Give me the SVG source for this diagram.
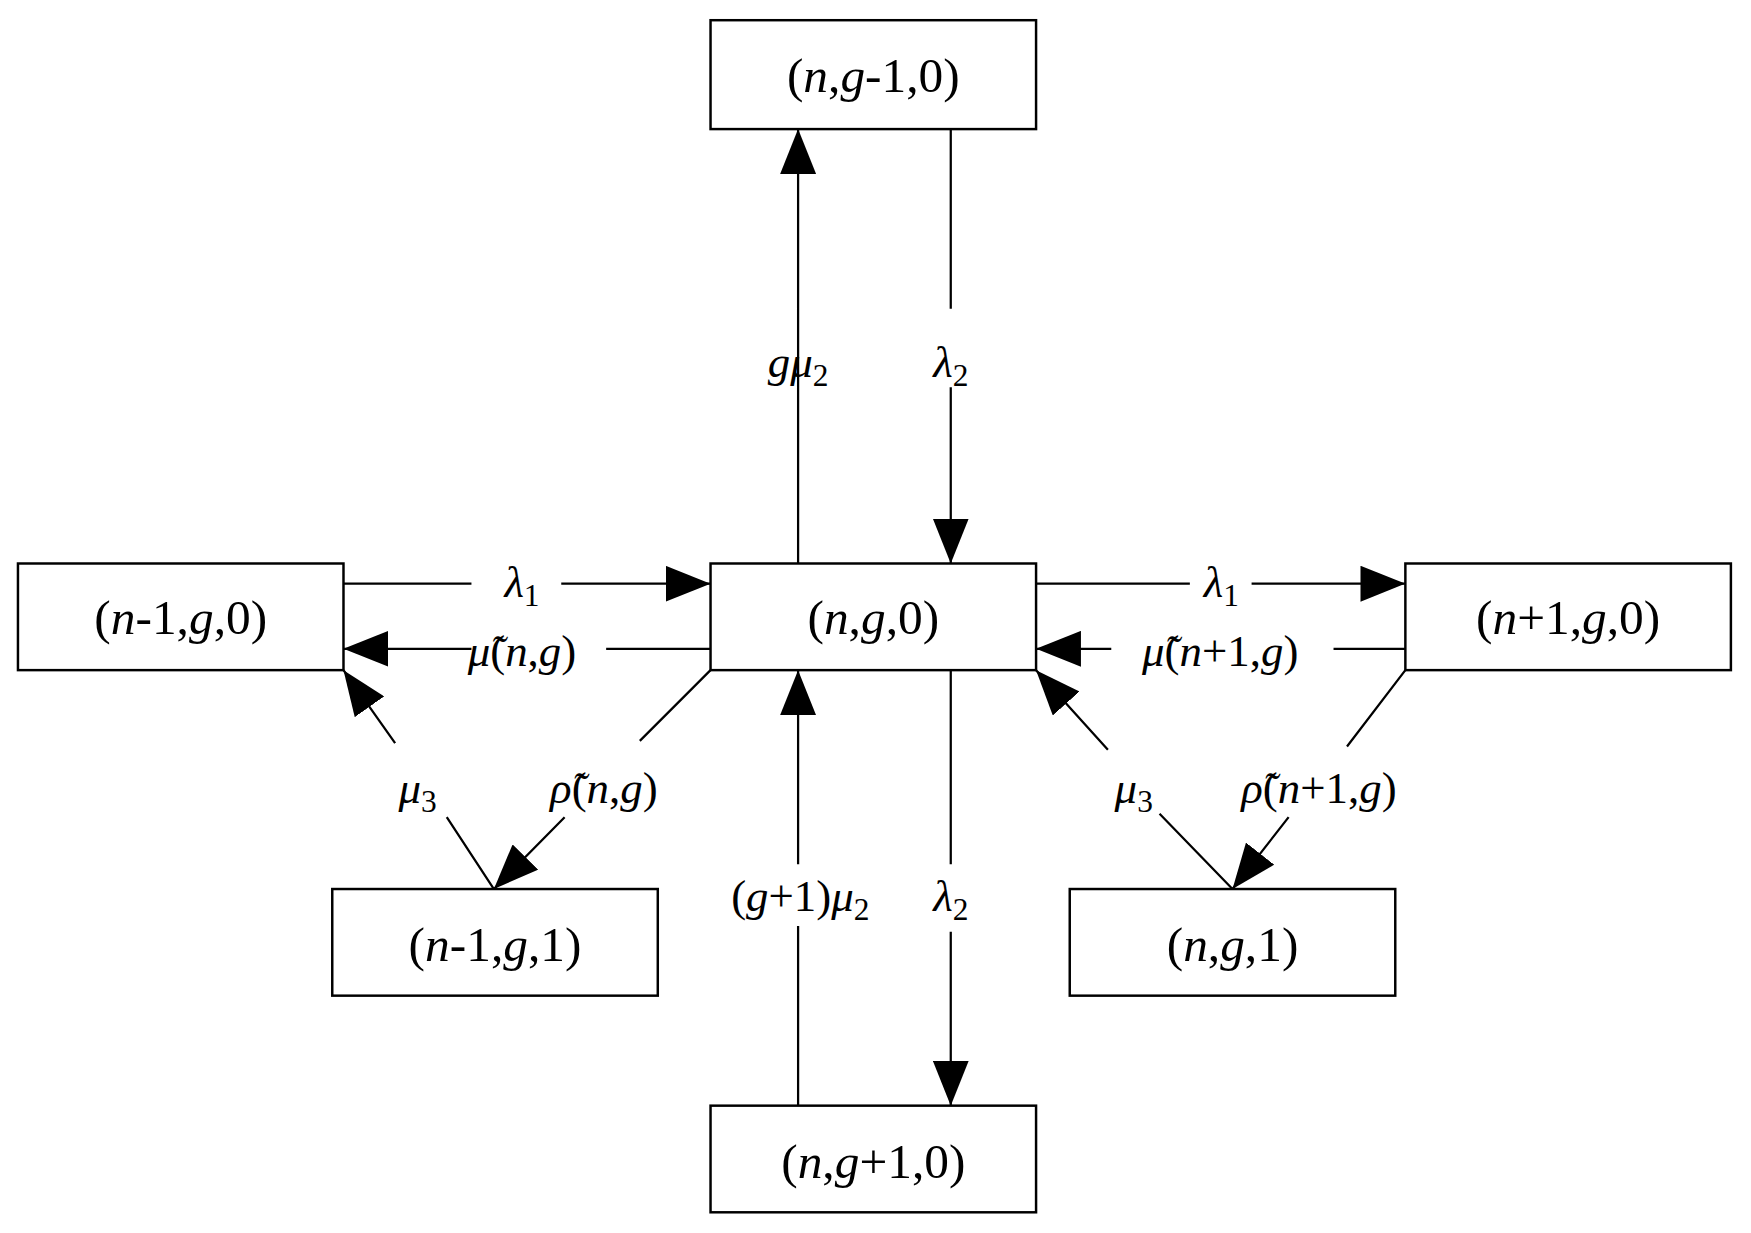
<svg xmlns="http://www.w3.org/2000/svg" width="1751" height="1233" viewBox="0 0 1751 1233">
<style>
.b{fill:#fff;stroke:#000;stroke-width:2.2}
.t{font-family:"Liberation Serif",serif;font-size:44px;text-anchor:middle}
.l{font-family:"Liberation Serif",serif;font-size:40px;text-anchor:middle}
.i{font-style:italic}
.s{font-size:28px}
.c{stroke:#000;stroke-width:2;fill:none}
</style>
<defs>
<marker id="a" markerUnits="userSpaceOnUse" markerWidth="40" markerHeight="32" refX="40" refY="16" orient="auto"><path d="M0,0L40,16L0,32z" fill="#000"/></marker>
</defs>
<rect width="1751" height="1233" fill="#fff"/>
<g transform="scale(1.1225)">
<g id="connectors">
<path class="c" d="M711,502V275M711,345V115" marker-end="url(#a)"/>
<path class="c" d="M847,115V275M847,345V502" marker-end="url(#a)"/>
<path class="c" d="M306,520H420M500,520H633" marker-end="url(#a)"/>
<path class="c" d="M633,578H540M420,578H306" marker-end="url(#a)"/>
<path class="c" d="M923,520H1060M1115,520H1252" marker-end="url(#a)"/>
<path class="c" d="M1252,578H1188M990,578H923" marker-end="url(#a)"/>
<path class="c" d="M440,792L398,728M352,662L306,597" marker-end="url(#a)"/>
<path class="c" d="M633,597L570,660M503,728L440,792" marker-end="url(#a)"/>
<path class="c" d="M1098,792L1033,725M987,668L923,597" marker-end="url(#a)"/>
<path class="c" d="M1252,597L1200,665M1148,728L1098,792" marker-end="url(#a)"/>
<path class="c" d="M711,985V825M711,770V597" marker-end="url(#a)"/>
<path class="c" d="M847,597V770M847,830V985" marker-end="url(#a)"/>
</g>
<g id="labels" class="l">
<text x="711" y="336"><tspan class="i">gμ</tspan><tspan class="s" dy="8">2</tspan></text>
<text x="847" y="336"><tspan class="i">λ</tspan><tspan class="s" dy="8">2</tspan></text>
<text x="465" y="532"><tspan class="i">λ</tspan><tspan class="s" dy="8">1</tspan></text>
<text x="1088" y="532"><tspan class="i">λ</tspan><tspan class="s" dy="8">1</tspan></text>
<text x="465" y="593"><tspan class="i">μ̃</tspan>(<tspan class="i">n</tspan>,<tspan class="i">g</tspan>)</text>
<text x="1087" y="593"><tspan class="i">μ̃</tspan>(<tspan class="i">n</tspan>+1,<tspan class="i">g</tspan>)</text>
<text x="372" y="715"><tspan class="i">μ</tspan><tspan class="s" dy="8">3</tspan></text>
<text x="1010" y="715"><tspan class="i">μ</tspan><tspan class="s" dy="8">3</tspan></text>
<text x="538" y="715"><tspan class="i">ρ̃</tspan>(<tspan class="i">n</tspan>,<tspan class="i">g</tspan>)</text>
<text x="1175" y="715"><tspan class="i">ρ̃</tspan>(<tspan class="i">n</tspan>+1,<tspan class="i">g</tspan>)</text>
<text x="713" y="812">(<tspan class="i">g</tspan>+1)<tspan class="i">μ</tspan><tspan class="s" dy="8">2</tspan></text>
<text x="847" y="812"><tspan class="i">λ</tspan><tspan class="s" dy="8">2</tspan></text>
</g>
<g id="top"><rect class="b" x="633" y="18" width="290" height="97"/><text class="t" x="778" y="82">(<tspan class="i">n</tspan>,<tspan class="i">g</tspan>-1,0)</text></g>
<g id="center"><rect class="b" x="633" y="502" width="290" height="95"/><text class="t" x="778" y="565">(<tspan class="i">n</tspan>,<tspan class="i">g</tspan>,0)</text></g>
<g id="left"><rect class="b" x="16" y="502" width="290" height="95"/><text class="t" x="161" y="565">(<tspan class="i">n</tspan>-1,<tspan class="i">g</tspan>,0)</text></g>
<g id="right"><rect class="b" x="1252" y="502" width="290" height="95"/><text class="t" x="1397" y="565">(<tspan class="i">n</tspan>+1,<tspan class="i">g</tspan>,0)</text></g>
<g id="bottomleft"><rect class="b" x="296" y="792" width="290" height="95"/><text class="t" x="441" y="856">(<tspan class="i">n</tspan>-1,<tspan class="i">g</tspan>,1)</text></g>
<g id="bottomright"><rect class="b" x="953" y="792" width="290" height="95"/><text class="t" x="1098" y="856">(<tspan class="i">n</tspan>,<tspan class="i">g</tspan>,1)</text></g>
<g id="bottom"><rect class="b" x="633" y="985" width="290" height="95"/><text class="t" x="778" y="1049">(<tspan class="i">n</tspan>,<tspan class="i">g</tspan>+1,0)</text></g>
</g>
</svg>
